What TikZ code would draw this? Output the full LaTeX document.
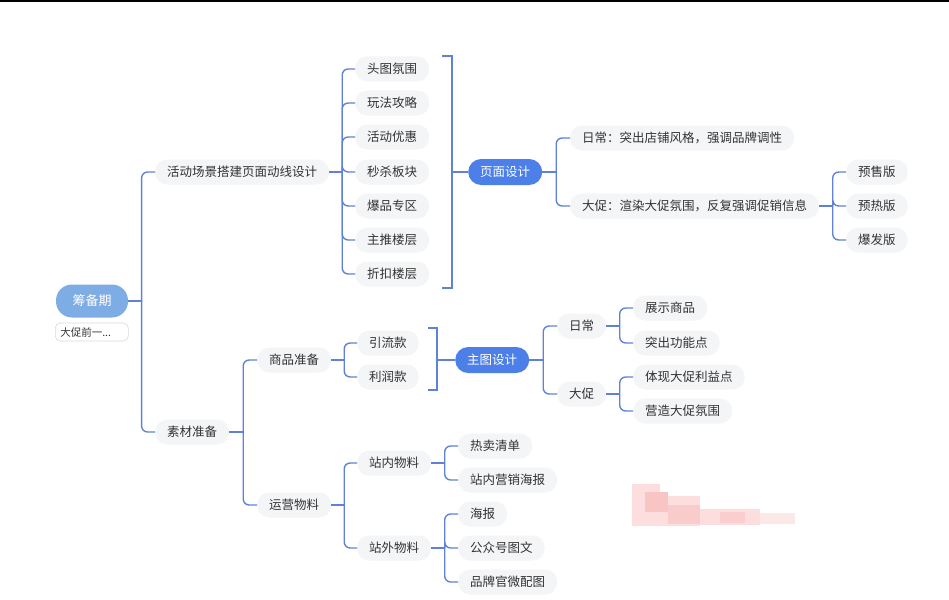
\documentclass[tikz,border=0pt]{standalone}
\usepackage{fontspec}
\setmainfont{Noto Sans CJK SC}
\usetikzlibrary{calc}
\definecolor{conncol}{RGB}{95,130,215}
\definecolor{topicblue}{RGB}{77,127,232}
\definecolor{rootblue}{RGB}{126,173,230}
\definecolor{leafbg}{RGB}{244,245,247}
\definecolor{txt}{RGB}{51,51,51}
\definecolor{pinkA}{RGB}{252,222,222}
\definecolor{pinkB}{RGB}{248,196,196}
\newcommand\fsz{\fontsize{12.5}{14}\selectfont}
\newcommand\branch[2]{%
  \coordinate (tmp) at ($(#1.east)!0.5!(#1.east -| #2.west)$);
  \draw[conn] (#1.east) -- (tmp);
  \draw[conn, rounded corners=6pt] (tmp) |- (#2.west);}
\tikzset{
  conn/.style={draw=conncol, line width=1.4pt},
  leaf/.style={fill=leafbg, text=txt, rounded corners=12pt, minimum height=25pt,
    inner xsep=12pt, inner ysep=0pt, anchor=west, font=\fsz},
  topic/.style={leaf, fill=topicblue, text=white, minimum height=26pt,
    rounded corners=13pt, font=\fsz},
  rootnode/.style={fill=rootblue, text=white, minimum height=33pt, minimum width=72pt,
    rounded corners=16pt, font=\fontsize{13}{15}\selectfont},
  notebox/.style={fill=white, draw=black!15, line width=0.6pt, rounded corners=5pt,
    minimum height=18pt, text width=63pt, align=left, inner xsep=5pt, inner ysep=0pt,
    anchor=west, text=txt, font=\fontsize{10.5}{12}\selectfont}
}
\begin{document}
\begin{tikzpicture}[x=1pt,y=-1pt]
\useasboundingbox (0,0) rectangle (949,599);
\fill[black] (0,0) rectangle (949,2.5);
% pink blurred blob
\fill[pinkA] (632,484) rectangle (660,496);
\fill[pinkA] (632,496) rectangle (700,526);
\fill[pinkB] (645,492) rectangle (668,512);
\fill[pinkB!70!pinkA] (668,505) rectangle (700,524);
\fill[pinkA] (700,509) rectangle (760,525);
\fill[pinkB!60!pinkA] (720,512) rectangle (745,523);
\fill[pinkA!70!white] (760,513) rectangle (795,524);
% root
\node[rootnode] (R) at (92,301) {筹备期};
\node[notebox] (RN) at (55,332) {大促前一...};
% level 1
\node[leaf] (A) at (155,172) {活动场景搭建页面动线设计};
\node[leaf] (M) at (155,432) {素材准备};
\branch{R}{A}\branch{R}{M}
% A children
\node[leaf] (A1) at (355,69) {头图氛围};
\node[leaf] (A2) at (355,103) {玩法攻略};
\node[leaf] (A3) at (355,137) {活动优惠};
\node[leaf] (A4) at (355,172) {秒杀板块};
\node[leaf] (A5) at (355,206) {爆品专区};
\node[leaf] (A6) at (355,240) {主推楼层};
\node[leaf] (A7) at (355,274) {折扣楼层};
\foreach \c in {A1,A2,A3,A4,A5,A6,A7} {\branch{A}{\c}}
% bracket 1
\coordinate (b1t) at (442,56);
\coordinate (b1b) at (442,288);
\coordinate (b1m) at (452,172);
\draw[conn] (b1t) -- ++(10,0) -- ($(b1b)+(10,0)$) -- (b1b);
\node[topic] (P) at (468,172) {页面设计};
\draw[conn] (b1m) -- (P.west);
\node[leaf] (P1) at (570,138) {日常：突出店铺风格，强调品牌调性};
\node[leaf] (P2) at (570,206) {大促：渲染大促氛围，反复强调促销信息};
\branch{P}{P1}\branch{P}{P2}
\node[leaf] (Q1) at (846,172) {预售版};
\node[leaf] (Q2) at (846,206) {预热版};
\node[leaf] (Q3) at (846,240) {爆发版};
\branch{P2}{Q1}\branch{P2}{Q2}\branch{P2}{Q3}
% M children
\node[leaf] (G) at (257,360) {商品准备};
\node[leaf] (Y) at (257,505) {运营物料};
\branch{M}{G}\branch{M}{Y}
\node[leaf] (G1) at (357,343) {引流款};
\node[leaf] (G2) at (357,377) {利润款};
\branch{G}{G1}\branch{G}{G2}
% bracket 2
\coordinate (b2t) at (428,328);
\coordinate (b2b) at (428,390);
\coordinate (b2m) at (437,360);
\draw[conn] (b2t) -- ++(9,0) -- ($(b2b)+(9,0)$) -- (b2b);
\node[topic] (Z) at (455,360) {主图设计};
\draw[conn] (b2m) -- (Z.west);
\node[leaf] (Z1) at (557,326) {日常};
\node[leaf] (Z2) at (557,394) {大促};
\branch{Z}{Z1}\branch{Z}{Z2}
\node[leaf] (Z11) at (633,308) {展示商品};
\node[leaf] (Z12) at (633,343) {突出功能点};
\branch{Z1}{Z11}\branch{Z1}{Z12}
\node[leaf] (Z21) at (633,377) {体现大促利益点};
\node[leaf] (Z22) at (633,411) {营造大促氛围};
\branch{Z2}{Z21}\branch{Z2}{Z22}
% Y children
\node[leaf] (Y1) at (357,463) {站内物料};
\node[leaf] (Y2) at (357,548) {站外物料};
\branch{Y}{Y1}\branch{Y}{Y2}
\node[leaf] (Y11) at (458,446) {热卖清单};
\node[leaf] (Y12) at (458,480) {站内营销海报};
\branch{Y1}{Y11}\branch{Y1}{Y12}
\node[leaf] (Y21) at (458,514) {海报};
\node[leaf] (Y22) at (458,548) {公众号图文};
\node[leaf] (Y23) at (458,582) {品牌官微配图};
\branch{Y2}{Y21}\branch{Y2}{Y22}\branch{Y2}{Y23}
\end{tikzpicture}
\end{document}
